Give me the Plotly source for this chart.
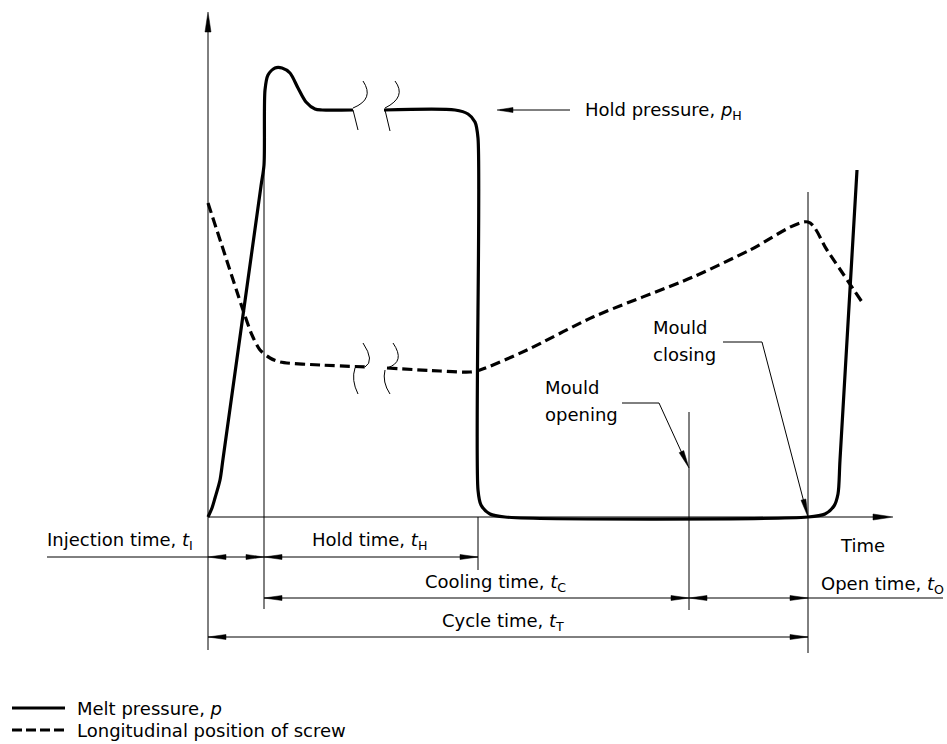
import math
import plotly.graph_objects as go

# ---------------- data (chart units: time along x, signal along y) ----------------
melt_time = [0, 4, 7, 12, 15, 53, 56, 57, 60, 67, 74, 82, 90, 98, 107, 114, 145, None,
             176, 247, 260, 267, 270, 270, 273, 282, 297, 600, 617, 626, 630, 632, 649]
melt_pressure = [0, 9, 19, 37, 58, 331, 352, 427, 442, 449, 449, 444, 429, 415, 408, 407, 407, None,
                 407, 407, 403, 395, 379, 27, 12, 3, 0, 0, 3, 11, 23, 57, 347]

screw_time = [0, 17, 35, 44, 52, 62, 72, 112, 161, None,
              179, 232, 262, 272, 319, 385, 485, 542, 600, 619, 654]
screw_position = [314, 262, 207, 182, 167, 159, 155, 152, 150, None,
                  149, 146, 145, 147, 167, 200, 240, 267, 295, 267, 215]

series_names = ["Melt pressure, <i>p</i>", "Longitudinal position of screw"]

# ---------------- helpers for drawing annotations (page-pixel -> chart units) ----------------
OX, OY = 208, 517


def d(px, py):
    return (px - OX, OY - py)


shapes = []
annotations = []
FONT = dict(family="DejaVu Sans", size=18, color="black")


def seg(p1, p2, w=1, dash=None):
    x0, y0 = d(*p1)
    x1, y1 = d(*p2)
    ln = dict(color="black", width=w)
    if dash:
        ln["dash"] = dash
    shapes.append(dict(type="line", xref="x", yref="y", x0=x0, y0=y0, x1=x1, y1=y1, line=ln))


def head(tip, direction, L=18, hw=2.5):
    tx, ty = tip
    dx, dy = direction
    n = math.hypot(dx, dy)
    ux, uy = dx / n, dy / n
    bx, by = tx - L * ux, ty - L * uy
    nx, ny = -uy, ux
    pts = [(tx, ty), (bx + hw * nx, by + hw * ny), (bx - hw * nx, by - hw * ny)]
    pts = [d(*p) for p in pts]
    path = "M {},{} L {},{} L {},{} Z".format(*[v for p in pts for v in p])
    shapes.append(dict(type="path", xref="x", yref="y", path=path,
                       fillcolor="black", line=dict(color="black", width=0.5)))


def curve(s, w=1):
    toks = s.split()
    out, nums = [], []
    for t in toks:
        if t.isalpha():
            out.append(t)
        else:
            nums.append(float(t))
            if len(nums) == 2:
                x, y = d(*nums)
                out.append(f"{x},{y}")
                nums = []
    shapes.append(dict(type="path", xref="x", yref="y", path=" ".join(out),
                       line=dict(color="black", width=w)))


def text(px, py, s, anchor="left"):
    x, y = d(px, py)
    annotations.append(dict(x=x, y=y, xref="x", yref="y", text=s, showarrow=False,
                            xanchor=anchor, yanchor="middle", font=FONT))


# axes
seg((208, 24), (208, 650))
head((208, 12), (0, -1), L=20, hw=3)
seg((208, 517), (880, 517))
head((893, 517), (1, 0), L=20, hw=3)

# extension lines
seg((264, 165), (264, 609))
seg((478, 517), (478, 570))
seg((689, 412), (689, 610))
seg((808, 192), (808, 653))

# dimension lines
seg((47, 557), (478, 557))
seg((264, 598), (943, 598))
seg((208, 637), (808, 637))
for tip, dr in [((208, 557), (-1, 0)), ((264, 557), (1, 0)), ((264, 557), (-1, 0)), ((478, 557), (1, 0)),
                ((264, 598), (-1, 0)), ((689, 598), (1, 0)), ((689, 598), (-1, 0)), ((808, 598), (1, 0)),
                ((208, 637), (-1, 0)), ((808, 637), (1, 0))]:
    head(tip, dr)

# hold pressure pointer
seg((500, 110), (570, 110))
head((497, 110), (-1, 0), L=16)

# mould opening / closing leaders
seg((622, 403), (659, 403))
seg((659, 403), (686, 462))
head((689, 468), (30, 65))
seg((723, 342), (762, 342))
seg((762, 342), (806, 510))
head((808, 517), (46, 175))

# break marks
curve("M 363 81 Q 375 99 353 108")
curve("M 353 110 L 358 130")
curve("M 395 81 Q 407 97 385 108")
curve("M 385 110 L 390 131")
curve("M 363 343 Q 375 361 365 367")
curve("M 355 368 Q 351 380 358 394")
curve("M 393 343 Q 406 362 387 368")
curve("M 385 370 Q 382 382 390 394")

# legend samples
seg((12, 708), (65, 708), w=3)
seg((12, 730), (65, 730), w=3, dash="10px,4px")

# texts
text(583, 111, "Hold pressure, <i>p</i><sub>H</sub>")
text(651, 327, "Mould")
text(651, 354, "closing")
text(543, 387, "Mould")
text(543, 414, "opening")
text(838, 545, "Time")
text(45, 541, "Injection time, <i>t</i><sub>I</sub>")
text(310, 541, "Hold time, <i>t</i><sub>H</sub>")
text(423, 583, "Cooling time, <i>t</i><sub>C</sub>")
text(819, 585, "Open time, <i>t</i><sub>O</sub>")
text(440, 622, "Cycle time, <i>t</i><sub>T</sub>")
text(75, 708, series_names[0])
text(75, 730, series_names[1])

fig = go.Figure()
fig.add_trace(go.Scatter(x=melt_time, y=melt_pressure, mode="lines", name=series_names[0],
                         line=dict(color="black", width=3.2, shape="spline", smoothing=0.8),
                         connectgaps=False, showlegend=False, hoverinfo="skip"))
fig.add_trace(go.Scatter(x=screw_time, y=screw_position, mode="lines", name=series_names[1],
                         line=dict(color="black", width=3.2, shape="spline", smoothing=0.8, dash="10px,5px"),
                         connectgaps=False, showlegend=False, hoverinfo="skip"))

fig.update_layout(
    width=947, height=744, margin=dict(l=0, r=0, t=0, b=0),
    paper_bgcolor="white", plot_bgcolor="white",
    xaxis=dict(range=[-208, 739], visible=False, fixedrange=True),
    yaxis=dict(range=[-227, 517], visible=False, fixedrange=True),
    shapes=shapes, annotations=annotations, showlegend=False,
)

fig.write_html("out.html", config={"displayModeBar": False},
               post_script="document.body.style.margin='0';")
